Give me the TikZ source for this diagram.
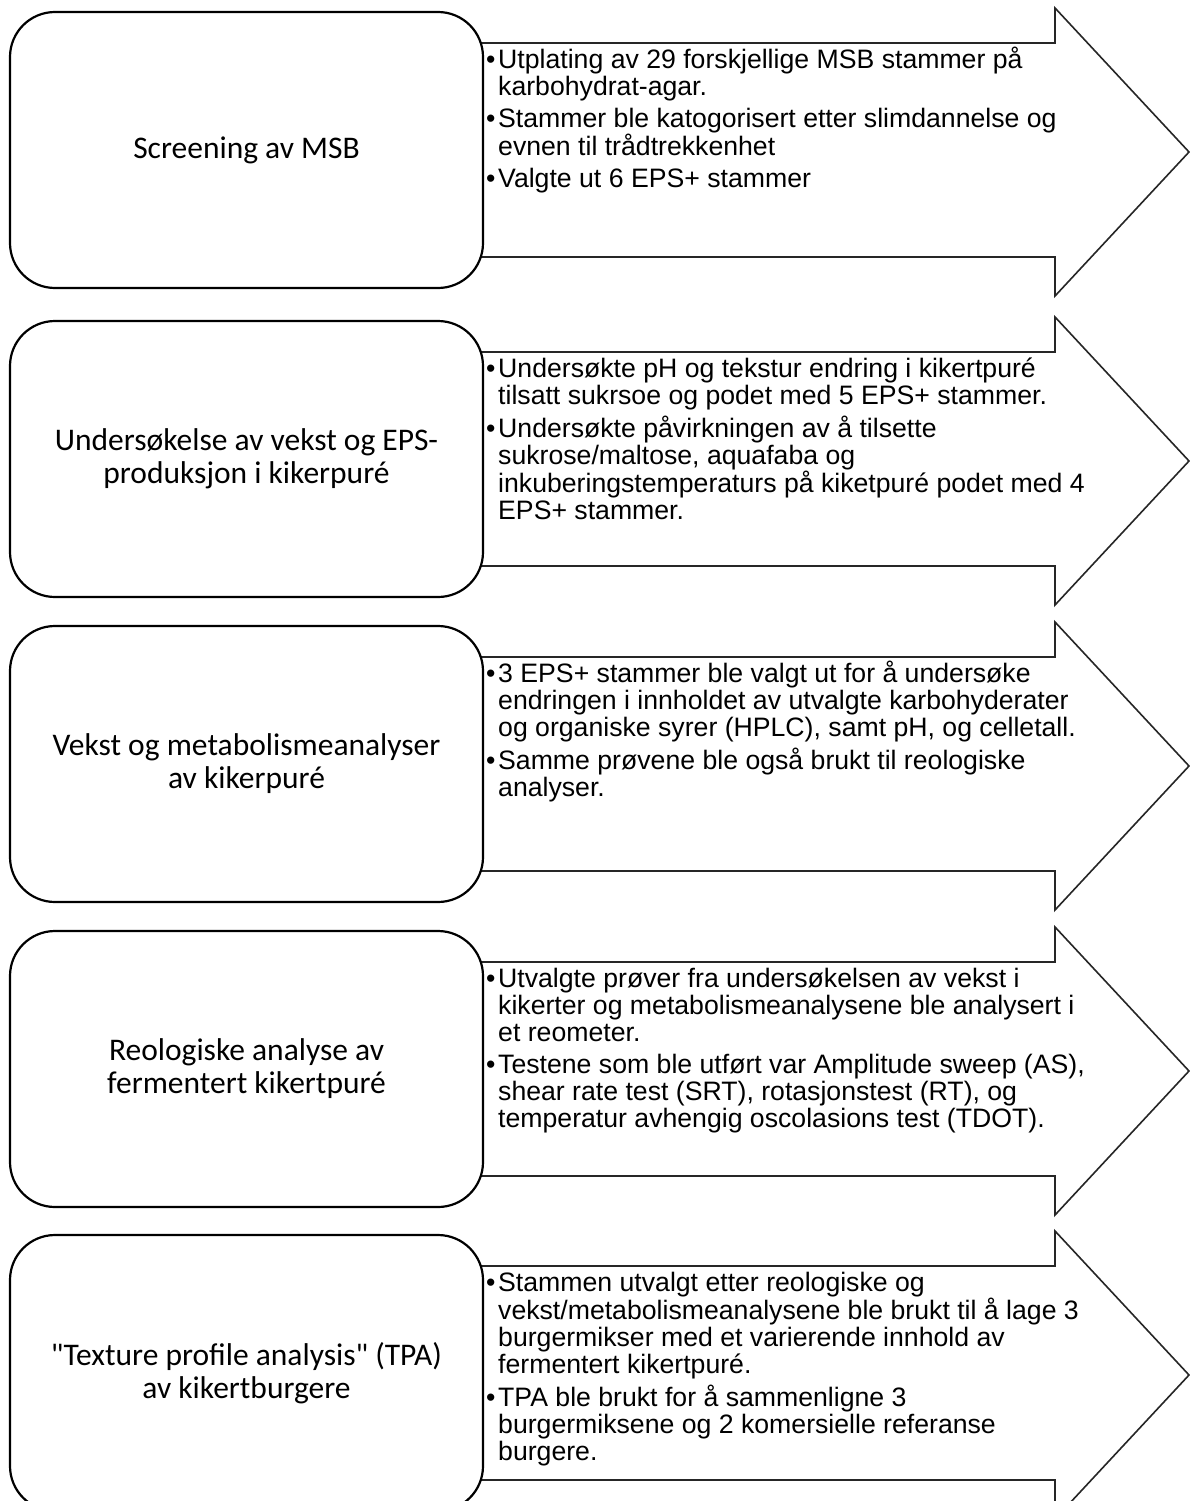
\documentclass[tikz,border=0pt]{standalone}
\usepackage{fontspec}
\newfontfamily\labfont{Carlito}
\newfontfamily\bodfont{Liberation Sans}
\newcommand\bl{\makebox[12pt][l]{•}}
\newcommand\ind{\hspace*{12pt}}
\newcommand\firststrut{\rule{0pt}{22pt}}
\tikzset{
  stage/.style={draw=black, line width=2.2pt, fill=white, rounded corners=45pt,
    minimum width=473pt, minimum height=276pt, inner sep=0pt, align=center,
    font=\labfont\fontsize{31.5}{33}\selectfont},
  blockarrow/.style={draw=black!85, line width=1.6pt, fill=white, line join=miter},
  bullets/.style={anchor=north west, inner sep=0pt, align=left,
    font=\bodfont\fontsize{26.65}{27}\selectfont},
}
\newcommand\stagearrow[1]{%
  \draw[blockarrow] (440,#1+35) -- (1055,#1+35) -- (1055,#1) -- (1189,#1+144)
    -- (1055,#1+288) -- (1055,#1+249) -- (440,#1+249) -- cycle;}
\begin{document}
\begin{tikzpicture}[x=1pt,y=-1pt]
\useasboundingbox (0,0) rectangle (1190,1501);
\clip (0,0) rectangle (1190,1501);
\fill[white] (0,0) rectangle (1190,1501);

% arrows
\stagearrow{8}
\stagearrow{317}
\stagearrow{622}
\stagearrow{927}
\stagearrow{1231}

% stage boxes
\node[stage] (s1) at (246.5,8+4+138) {Screening av MSB};
\node[stage] (s2) at (246.5,317+4+138) {Undersøkelse av vekst og EPS-\\produksjon i kikerpuré};
\node[stage] (s3) at (246.5,622+4+138) {Vekst og metabolismeanalyser\\av kikerpuré};
\node[stage] (s4) at (246.5,927+4+138) {Reologiske analyse av\\fermentert kikertpuré};
\node[stage] (s5) at (246.5,1231+4+138) {"Texture profile analysis" (TPA)\\av kikertburgere};

% bullet texts
\node[bullets] (t1) at (486,8+38) {\firststrut\bl Utplating av 29 forskjellige MSB stammer på\\
\ind karbohydrat-agar.\\[5pt]
\bl Stammer ble katogorisert etter slimdannelse og\\
\ind evnen til trådtrekkenhet\\[5pt]
\bl Valgte ut 6 EPS+ stammer};

\node[bullets] (t2) at (486,317+38) {\firststrut\bl Undersøkte pH og tekstur endring i kikertpuré\\
\ind tilsatt sukrsoe og podet med 5 EPS+ stammer.\\[5pt]
\bl Undersøkte påvirkningen av å tilsette\\
\ind sukrose/maltose, aquafaba og\\
\ind inkuberingstemperaturs på kiketpuré podet med 4\\
\ind EPS+ stammer.};

\node[bullets] (t3) at (486,622+38) {\firststrut\bl 3 EPS+ stammer ble valgt ut for å undersøke\\
\ind endringen i innholdet av utvalgte karbohyderater\\
\ind og organiske syrer (HPLC), samt pH, og celletall.\\[5pt]
\bl Samme prøvene ble også brukt til reologiske\\
\ind analyser.};

\node[bullets] (t4) at (486,927+38) {\firststrut\bl Utvalgte prøver fra undersøkelsen av vekst i\\
\ind kikerter og metabolismeanalysene ble analysert i\\
\ind et reometer.\\[5pt]
\bl Testene som ble utført var Amplitude sweep (AS),\\
\ind shear rate test (SRT), rotasjonstest (RT), og\\
\ind temperatur avhengig oscolasions test (TDOT).};

\node[bullets] (t5) at (486,1231+38) {\firststrut\bl Stammen utvalgt etter reologiske og\\
\ind vekst/metabolismeanalysene ble brukt til å lage 3\\
\ind burgermikser med et varierende innhold av\\
\ind fermentert kikertpuré.\\[5pt]
\bl TPA ble brukt for å sammenligne 3\\
\ind burgermiksene og 2 komersielle referanse\\
\ind burgere.};
\end{tikzpicture}
\end{document}
